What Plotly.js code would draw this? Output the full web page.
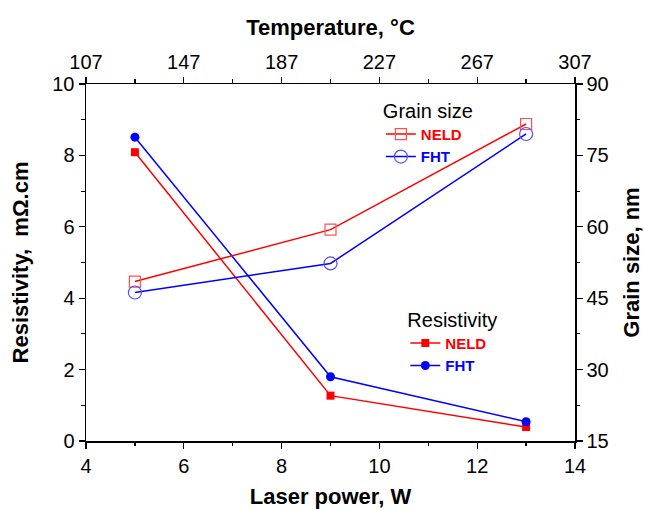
<!DOCTYPE html>
<html>
<head>
<meta charset="utf-8">
<script src="https://cdn.plot.ly/plotly-3.0.1.min.js"></script>
<style>html,body{margin:0;padding:0;background:#fff}#chart{width:645px;height:509px}</style>
</head>
<body>
<div id="chart"></div>
<script>
const laserPower = [5, 9, 13];
const resistivityNELD = [8.09, 1.27, 0.39];
const resistivityFHT = [8.51, 1.80, 0.54];
const grainNELD = [48.5, 59.4, 81.6];
const grainFHT = [46.2, 52.3, 79.5];
const tempTicks = [107, 147, 187, 227, 267, 307];

const RED = '#ff0000', BLUE = '#0000ff';
const FONT = 'Liberation Sans, Arial, sans-serif';

const traces = [
  {x: laserPower, y: grainNELD, xaxis: 'x', yaxis: 'y2', mode: 'lines+markers', legend: 'legend',
   name: "<b><span style='color:#ff0000'>NELD</span></b>",
   line: {color: RED, width: 1.5},
   marker: {symbol: 'square-open', size: 11, color: '#ff5050', line: {width: 1.2}}},
  {x: laserPower, y: grainFHT, xaxis: 'x', yaxis: 'y2', mode: 'lines+markers', legend: 'legend',
   name: "<b><span style='color:#0000ff'>FHT</span></b>",
   line: {color: BLUE, width: 1.5},
   marker: {symbol: 'circle-open', size: 13, color: '#5050ff', line: {width: 1.2}}},
  {x: laserPower, y: resistivityNELD, xaxis: 'x', yaxis: 'y', mode: 'lines+markers', legend: 'legend2',
   name: "<b><span style='color:#ff0000'>NELD</span></b>",
   line: {color: RED, width: 1.5},
   marker: {symbol: 'square', size: 8, color: RED}},
  {x: laserPower, y: resistivityFHT, xaxis: 'x', yaxis: 'y', mode: 'lines+markers', legend: 'legend2',
   name: "<b><span style='color:#0000ff'>FHT</span></b>",
   line: {color: BLUE, width: 1.5},
   marker: {symbol: 'circle', size: 9, color: BLUE}},
  // invisible helper so the top temperature axis is drawn
  {x: [tempTicks[0], tempTicks[tempTicks.length - 1]], y: [null, null], xaxis: 'x2', yaxis: 'y',
   mode: 'markers', marker: {opacity: 0}, showlegend: false, hoverinfo: 'skip'}
];

const axCommon = {
  showgrid: false, zeroline: false, showline: true, linecolor: '#000', linewidth: 1.5,
  ticks: 'outside', ticklen: 6, tickwidth: 1.3, tickcolor: '#000',
  tickfont: {family: FONT, size: 20, color: '#000'}
};
const titleFont = {family: FONT, size: 22, color: '#000'};

const layout = {
  width: 645, height: 509,
  margin: {l: 86, r: 70, t: 84, b: 68},
  paper_bgcolor: '#fff', plot_bgcolor: '#fff',
  font: {family: FONT, color: '#000'},
  xaxis: Object.assign({}, axCommon, {
    range: [4, 14], dtick: 2, tick0: 4,
    minor: {dtick: 1, ticks: 'outside', ticklen: 3.5, tickwidth: 1.2, tickcolor: '#000'},
    title: {text: '<b>Laser power, W</b>', font: titleFont, standoff: 13}
  }),
  xaxis2: Object.assign({}, axCommon, {
    overlaying: 'x', side: 'top', anchor: 'y',
    range: [107, 307], tickvals: tempTicks, ticktext: tempTicks.map(String),
    minor: {dtick: 20, tick0: 107, ticks: 'outside', ticklen: 3.5, tickwidth: 1.2, tickcolor: '#000'},
    title: {text: '<b>Temperature, °C</b>', font: titleFont, standoff: 9}
  }),
  yaxis: Object.assign({}, axCommon, {
    range: [0, 10], dtick: 2, tick0: 0,
    minor: {dtick: 1, ticks: 'outside', ticklen: 3.5, tickwidth: 1.2, tickcolor: '#000'},
    title: {text: '<b>Resistivity,  mΩ.cm</b>', font: titleFont, standoff: 17}
  }),
  yaxis2: Object.assign({}, axCommon, {
    overlaying: 'y', side: 'right', anchor: 'x',
    range: [15, 90], dtick: 15, tick0: 15,
    minor: {dtick: 7.5, ticks: 'outside', ticklen: 3.5, tickwidth: 1.2, tickcolor: '#000'},
    title: {text: '<b>Grain size, nm</b>', font: titleFont, standoff: 16}
  }),
  legend: {
    x: 0.603, y: 0.978, xanchor: 'left', yanchor: 'top',
    bgcolor: 'rgba(0,0,0,0)', borderwidth: 0,
    title: {text: 'Grain size', font: {family: FONT, size: 20, color: '#000'}},
    font: {family: FONT, size: 15}, tracegroupgap: 0, itemwidth: 30
  },
  legend2: {
    x: 0.653, y: 0.393, xanchor: 'left', yanchor: 'top',
    bgcolor: 'rgba(0,0,0,0)', borderwidth: 0,
    title: {text: 'Resistivity', font: {family: FONT, size: 20, color: '#000'}},
    font: {family: FONT, size: 15}, tracegroupgap: 0, itemwidth: 30
  },
  showlegend: true
};

Plotly.newPlot('chart', traces, layout, {displayModeBar: false, staticPlot: true});
</script>
</body>
</html>
